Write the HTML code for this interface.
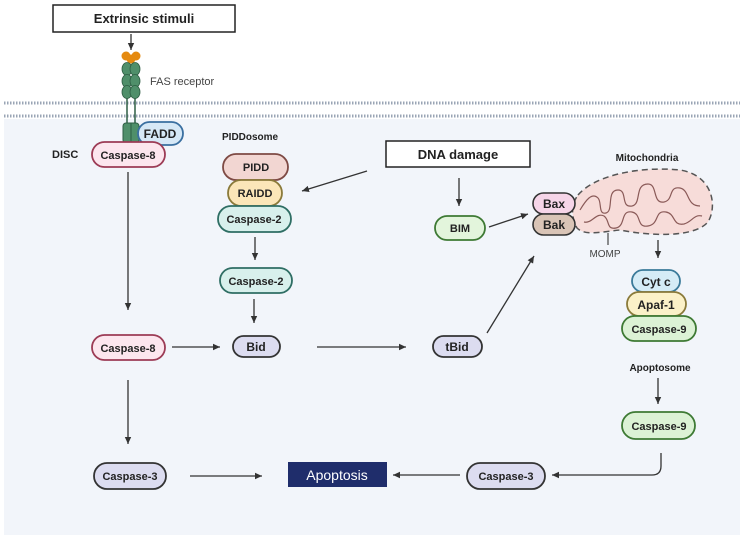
<!DOCTYPE html>
<html><head><meta charset="utf-8"><style>
html,body{margin:0;padding:0;background:#fff;}
svg{display:block;font-family:"Liberation Sans",sans-serif;}
.b{font-weight:bold;font-size:11px;fill:#222;text-anchor:middle;}
</style></head><body>
<svg width="744" height="540" viewBox="0 0 744 540" xmlns="http://www.w3.org/2000/svg">
<defs>
<marker id="a" markerWidth="8" markerHeight="8" refX="7" refY="4" orient="auto" markerUnits="userSpaceOnUse"><path d="M0,0.8 L7,4 L0,7.2 z" fill="#333"/></marker>
</defs>
<rect x="0" y="0" width="744" height="540" fill="#fff"/>
<rect x="4" y="110" width="736" height="425" fill="#f2f5fa"/>
<rect x="0" y="100" width="744" height="19" fill="#fff"/>
<line x1="4" y1="103" x2="740" y2="103" stroke="#9aa5b5" stroke-width="3" stroke-dasharray="1.5 1.5"/>
<line x1="4" y1="116" x2="740" y2="116" stroke="#9aa5b5" stroke-width="3" stroke-dasharray="1.5 1.5"/>
<rect x="53" y="5" width="182" height="27" fill="#fff" stroke="#222" stroke-width="1.5"/>
<text x="144" y="23" class="b" style="font-size:13px">Extrinsic stimuli</text>
<line x1="131" y1="34" x2="131" y2="50" stroke="#333" stroke-width="1.3" marker-end="url(#a)"/>
<circle cx="126" cy="56" r="4.5" fill="#e58a10"/><circle cx="136" cy="56" r="4.5" fill="#e58a10"/><circle cx="131" cy="59" r="4.5" fill="#e58a10"/>
<g fill="#4f8f6a" stroke="#2e5e44" stroke-width="0.8">
<ellipse cx="127" cy="69" rx="5" ry="6.5"/><ellipse cx="135" cy="69" rx="5" ry="6.5"/>
<ellipse cx="127" cy="81" rx="5" ry="6.5"/><ellipse cx="135" cy="81" rx="5" ry="6.5"/>
<ellipse cx="127" cy="92" rx="5" ry="6.5"/><ellipse cx="135" cy="92" rx="5" ry="6.5"/>
</g>
<line x1="127" y1="98" x2="127" y2="125" stroke="#2e5e44" stroke-width="1.5"/>
<line x1="135" y1="98" x2="135" y2="125" stroke="#2e5e44" stroke-width="1.5"/>
<text x="150" y="85" font-size="11" fill="#444">FAS receptor</text>
<rect x="123" y="123" width="16" height="20" rx="3" fill="#4f8f6a" stroke="#2e5e44"/>
<line x1="131" y1="123" x2="131" y2="143" stroke="#2e5e44"/>
<rect x="138" y="122" width="45" height="23" rx="11.5" fill="#d6e8f6" stroke="#3a6fa0" stroke-width="1.8"/>
<text x="160" y="138" class="b" style="font-size:12px">FADD</text>
<text x="52" y="158" class="b" style="text-anchor:start">DISC</text>
<rect x="92" y="142" width="73" height="25" rx="12.5" fill="#fce6ee" stroke="#9c3b55" stroke-width="1.8"/>
<text x="128" y="159" class="b">Caspase-8</text>
<line x1="128" y1="172" x2="128" y2="310" stroke="#333" stroke-width="1.3" marker-end="url(#a)"/>
<text x="222" y="140" class="b" style="text-anchor:start;font-size:10px">PIDDosome</text>
<rect x="223" y="154" width="65" height="26" rx="13" fill="#f2d6d2" stroke="#7e4a44" stroke-width="1.8"/>
<text x="256" y="171" class="b">PIDD</text>
<rect x="228" y="180" width="54" height="26" rx="13" fill="#fbe6b8" stroke="#8a7a3a" stroke-width="1.8"/>
<text x="255" y="197" class="b">RAIDD</text>
<rect x="218" y="206" width="73" height="26" rx="13" fill="#d8f0ec" stroke="#2f6e64" stroke-width="1.8"/>
<text x="254" y="223" class="b">Caspase-2</text>
<line x1="255" y1="237" x2="255" y2="260" stroke="#333" stroke-width="1.3" marker-end="url(#a)"/>
<rect x="220" y="268" width="72" height="25" rx="12.5" fill="#d8f0ec" stroke="#2f6e64" stroke-width="1.8"/>
<text x="256" y="285" class="b">Caspase-2</text>
<line x1="254" y1="299" x2="254" y2="323" stroke="#333" stroke-width="1.3" marker-end="url(#a)"/>
<rect x="233" y="336" width="47" height="21" rx="10.5" fill="#dcdcf0" stroke="#333" stroke-width="1.8"/>
<text x="256" y="351" class="b" style="font-size:12px">Bid</text>
<rect x="92" y="335" width="73" height="25" rx="12.5" fill="#fce6ee" stroke="#9c3b55" stroke-width="1.8"/>
<text x="128" y="352" class="b">Caspase-8</text>
<line x1="172" y1="347" x2="220" y2="347" stroke="#333" stroke-width="1.3" marker-end="url(#a)"/>
<line x1="317" y1="347" x2="406" y2="347" stroke="#333" stroke-width="1.3" marker-end="url(#a)"/>
<rect x="433" y="336" width="49" height="21" rx="10.5" fill="#dcdcf0" stroke="#333" stroke-width="1.8"/>
<text x="457" y="351" class="b" style="font-size:12px">tBid</text>
<line x1="487" y1="333" x2="534" y2="256" stroke="#333" stroke-width="1.3" marker-end="url(#a)"/>
<rect x="386" y="141" width="144" height="26" fill="#fff" stroke="#222" stroke-width="1.5"/>
<text x="458" y="159" class="b" style="font-size:13px">DNA damage</text>
<line x1="367" y1="171" x2="302" y2="191" stroke="#333" stroke-width="1.3" marker-end="url(#a)"/>
<line x1="459" y1="178" x2="459" y2="206" stroke="#333" stroke-width="1.3" marker-end="url(#a)"/>
<rect x="435" y="216" width="50" height="24" rx="12" fill="#e3f5dc" stroke="#3e7a34" stroke-width="1.8"/>
<text x="460" y="232" class="b">BIM</text>
<line x1="489" y1="227" x2="528" y2="214" stroke="#333" stroke-width="1.3" marker-end="url(#a)"/>
<text x="647" y="161" class="b" style="font-size:10px">Mitochondria</text>
<path d="M578,195 C595,175 640,166 680,170 C712,175 718,205 708,222 C694,238 650,236 620,230 C600,232 585,236 577,228 C570,215 572,203 578,195 Z" fill="#f7dcd9" stroke="#555" stroke-width="1.5" stroke-dasharray="6 4"/>
<path d="M580,210 C586,200 592,192 598,198 C602,202 598,215 606,213 C614,211 606,190 618,190 C628,190 620,208 632,206 C642,204 634,184 648,184 C658,184 652,204 664,202 C674,200 668,186 680,188 C690,190 686,206 700,206 M584,222 C592,224 596,212 604,216 C610,220 606,230 616,228 C626,226 620,210 632,212 C642,214 636,228 648,226 C660,224 654,210 666,212 C676,214 672,226 684,224 C692,222 694,214 702,216" fill="none" stroke="#8a5a58" stroke-width="1.2"/>
<rect x="533" y="193" width="42" height="21" rx="10.5" fill="#f6d5e8" stroke="#333" stroke-width="1.6"/>
<text x="554" y="208" class="b" style="font-size:12px">Bax</text>
<rect x="533" y="214" width="42" height="21" rx="10.5" fill="#d9c4b6" stroke="#333" stroke-width="1.6"/>
<text x="554" y="229" class="b" style="font-size:12px">Bak</text>
<line x1="608" y1="233" x2="608" y2="245" stroke="#444" stroke-width="1.2"/>
<text x="605" y="257" font-size="10" fill="#444" text-anchor="middle">MOMP</text>
<line x1="658" y1="240" x2="658" y2="258" stroke="#333" stroke-width="1.3" marker-end="url(#a)"/>
<rect x="632" y="270" width="48" height="22" rx="11" fill="#d5ecf6" stroke="#3a7a99" stroke-width="1.8"/>
<text x="656" y="286" class="b" style="font-size:12px">Cyt c</text>
<rect x="627" y="292" width="59" height="24" rx="12" fill="#fbf1c8" stroke="#8a7a3a" stroke-width="1.8"/>
<text x="656" y="309" class="b" style="font-size:12px">Apaf-1</text>
<rect x="622" y="316" width="74" height="25" rx="12.5" fill="#dcf2d5" stroke="#3e7a34" stroke-width="1.8"/>
<text x="659" y="333" class="b">Caspase-9</text>
<text x="660" y="371" class="b" style="font-size:10px">Apoptosome</text>
<line x1="658" y1="378" x2="658" y2="404" stroke="#333" stroke-width="1.3" marker-end="url(#a)"/>
<rect x="622" y="412" width="73" height="27" rx="13.5" fill="#dcf2d5" stroke="#3e7a34" stroke-width="1.8"/>
<text x="659" y="430" class="b">Caspase-9</text>
<path d="M661,453 L661,466 Q661,475 652,475 L552,475" fill="none" stroke="#333" stroke-width="1.3" marker-end="url(#a)"/>
<rect x="467" y="463" width="78" height="26" rx="13" fill="#dcdcf0" stroke="#333" stroke-width="1.8"/>
<text x="506" y="480" class="b">Caspase-3</text>
<line x1="460" y1="475" x2="393" y2="475" stroke="#333" stroke-width="1.3" marker-end="url(#a)"/>
<rect x="288" y="462" width="99" height="25" fill="#1f2d6b"/>
<text x="337" y="480" font-size="14" fill="#fff" text-anchor="middle">Apoptosis</text>
<line x1="190" y1="476" x2="262" y2="476" stroke="#333" stroke-width="1.3" marker-end="url(#a)"/>
<rect x="94" y="463" width="72" height="26" rx="13" fill="#dcdcf0" stroke="#333" stroke-width="1.8"/>
<text x="130" y="480" class="b">Caspase-3</text>
<line x1="128" y1="380" x2="128" y2="444" stroke="#333" stroke-width="1.3" marker-end="url(#a)"/>
</svg>
</body></html>
